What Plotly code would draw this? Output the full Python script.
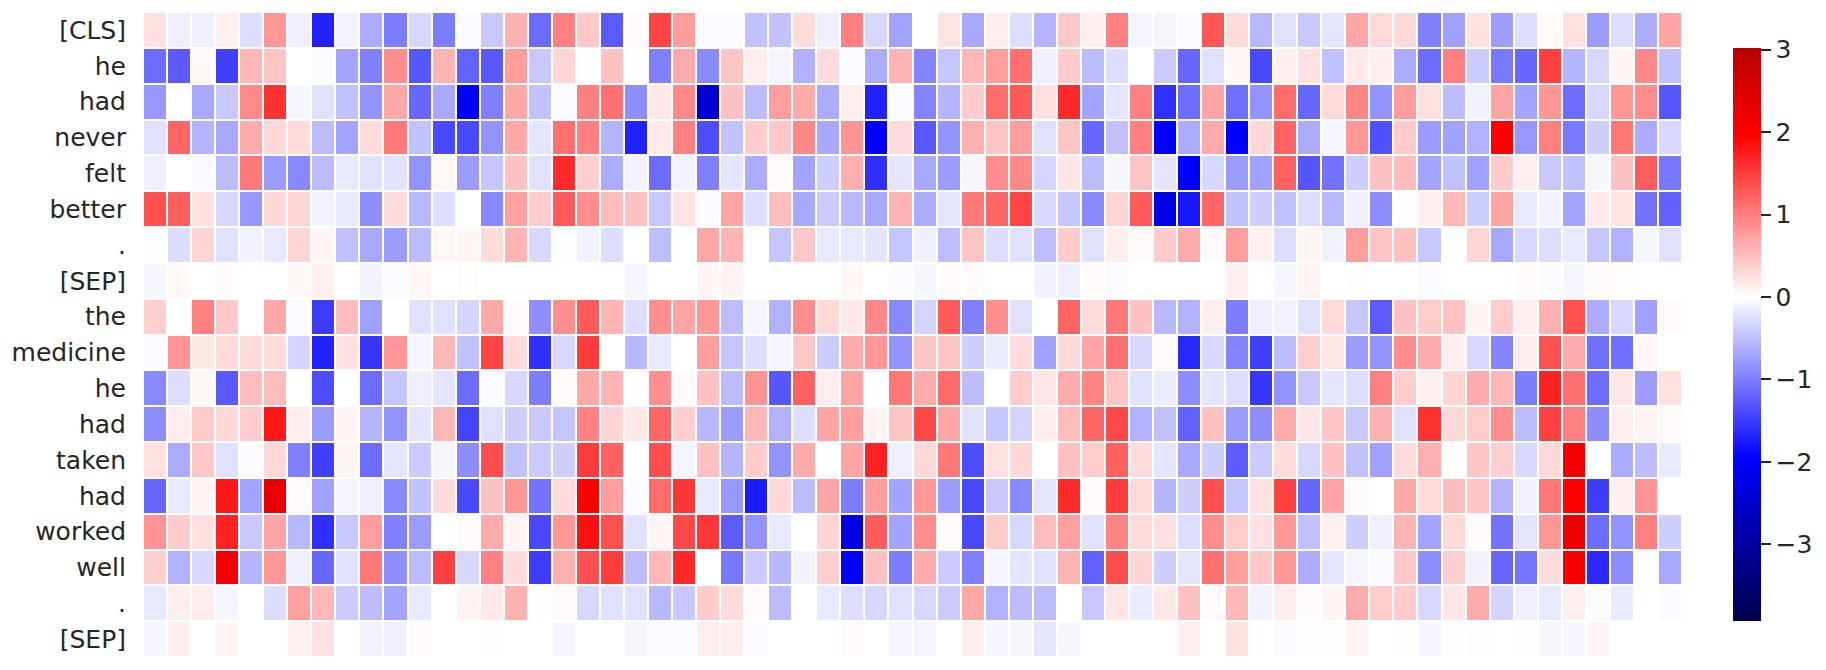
"""Token attention heatmap: one row per token, 64 hidden dimensions across."""
import plotly.graph_objects as go

tokens = ["[CLS]", "he", "had", "never", "felt", "better", ".", "[SEP]", "the", "medicine",
          "he", "had", "taken", "had", "worked", "well", ".", "[SEP]"]

row_cls = [.25, -.13, -.12, .12, -.26, .8, -.13, -1.7, -.09, -.65, -1.0, -.3, -1.0, -.04, -.42, .6,
           -1.15, .98, .42, -1.27, .05, 1.44, .76, -.04, -.03, -.48, -.48, .27, -.13, .98, -.3, -.72,
           0, .22, -.67, .14, -.26, -.57, .42, .13, .98, -.08, -.08, -.04, 1.3, .27, -.55, -.24,
           -.42, -.2, .68, .3, .3, -.98, -.73, .24, -.75, -.26, .05, .24, -.76, -.26, -.63, .7]
row_he = [-1.13, -1.27, .07, -1.47, .55, .45, 0, -.03, -.7, -.98, .87, -1.3, .58, -1.2, -1.28, .76,
          -.42, .33, 0, .48, 0, -.98, .65, -.9, .45, .15, -.08, -.6, .27, -.03, -.65, .58,
          -.95, -.44, .55, .76, 1.1, -.12, .4, -.52, -.26, 0, -.4, -1.17, -.24, .07, -1.4, .13,
          .24, -.48, .16, .13, -.65, -1.13, .98, -.4, -1.03, -1.17, 1.47, -.58, -.3, .08, .92, -.48]
row_had = [-.8, 0, -.67, -.42, .92, 1.58, -.07, -.24, -.48, -.83, .67, -1.17, -.67, -1.96, -.98, .67,
           -.48, -.03, .98, 1.1, -.87, .18, .92, -2.44, .48, -.52, .76, .65, -.65, .15, -1.7, -.03,
           -.95, -.58, .4, 1.13, 1.27, .24, 1.65, -.7, -.2, .98, -1.6, -1.13, .7, -1.1, -.83, 1.13,
           -1.17, .3, .95, -.83, .76, .24, -.52, -.1, .7, -.7, .8, -1.13, -.3, .8, .88, -1.3]
row_never = [-.24, 1.17, -.58, -.67, .65, .3, .27, -.52, -.7, .27, 1.03, -.48, -1.4, -1.4, -.83, .67,
             -.2, 1.1, .98, -.58, -1.7, .16, .98, -1.37, -.48, .4, .42, .92, -.67, .83, -1.96, .27,
             -1.28, -.83, .6, .45, .76, -.24, .45, -1.17, -.48, .98, -1.96, -.65, .65, -1.96, .3, 1.2,
             -.65, -.07, .8, -1.35, .4, -.76, -.73, -.6, 1.96, -.8, .98, -1.03, -.37, 1.05, -.65, -.3]
row_felt = [-.13, 0, -.05, -.52, 1.03, -.76, -.92, -.52, -.18, -.24, -.22, -.83, .07, -.76, -.45, .48,
            -.24, 1.65, .37, -.65, -.1, -1.13, -.1, -.98, -.2, -.65, .05, -.7, -.37, .62, -1.6, -.2,
            -.67, -.76, -.07, .88, .92, -.33, .2, -.52, -.07, .45, -.2, -1.96, -.3, -.76, -.73, 1.22,
            -1.3, -1.08, -.37, .48, .52, -.7, -.48, -.73, .4, .13, -.42, -.48, -.07, .48, 1.25, -1.05]
row_better = [1.35, 1.25, .24, -.3, -.8, .3, .33, -.1, -.18, -.87, .27, -.55, -.26, 0, -.92, .73,
              .4, 1.28, .88, .52, .48, -.42, .22, -.03, .7, -.26, .52, -.67, -.4, -.55, -.67, .58,
              -.65, -.2, 1.03, 1.17, 1.44, -.3, -.45, -.92, .33, 1.27, -2.22, -1.78, 1.17, -.48, -.37, -.48,
              -.26, -.55, -.12, -.88, -.01, .13, .55, -.37, .7, -.18, -.1, -.7, .16, .22, -1.08, -1.22]
row_dot_1 = [-.01, -.26, .33, -.24, -.1, -.18, .33, .08, -.48, -.67, -.76, -.52, .07, .08, .27, .58,
             -.3, -.01, -.1, -.26, 0, -.5, 0, .68, .58, 0, -.45, .42, -.18, -.18, -.2, -.45,
             -.12, -.5, .45, -.26, -.24, -.5, .4, -.24, .13, .05, .4, .65, .05, .76, .12, -.26,
             .08, -.1, .76, .45, .48, -.42, 0, .33, -.67, -.3, -.26, -.18, -.45, -.6, -.07, -.24]
row_sep_1 = [-.07, .07, 0, .03, 0, 0, .07, .12, 0, -.1, -.04, .07, 0, .02, 0, 0,
             0, 0, 0, 0, -.08, 0, 0, .08, .1, 0, 0, 0, 0, .07, 0, -.04,
             -.07, .03, .03, 0, 0, -.1, -.13, .03, -.03, 0, 0, 0, 0, .13, 0, -.07,
             .08, 0, .01, 0, 0, -.03, 0, 0, 0, .03, -.03, -.07, .03, .02, 0, 0]
row_the = [.37, 0, .98, .42, 0, .67, -.03, -1.5, .52, -.73, 0, -.24, -.24, -.33, .67, .04,
           -.87, .87, 1.27, .58, -.26, .87, .7, .8, -.5, -.08, -.6, .88, .3, .18, .92, -.92,
           -.33, 1.28, -.98, .88, -.24, 0, 1.2, .27, 1.05, .48, -.55, -.6, .13, -1.0, -.13, -.1,
           -.24, .3, -.45, -1.27, .48, .4, .48, .08, .4, .13, .6, 1.35, -.65, -.3, -.73, .05]
row_medicine = [-.03, .83, .18, .27, .27, .27, -.33, -1.7, .24, -1.55, .8, -.08, .55, -.48, 1.44, .27,
                -1.6, -.3, 1.5, 0, -.55, -.18, 0, .76, -.45, -.26, -.08, .42, -.4, .65, .8, -.83,
                .45, .45, -.37, -.15, .27, -.73, .3, .7, 1.1, -.3, .05, -1.65, -.3, -.95, -1.47, -.52,
                .37, .2, -.76, -.83, .88, .65, .13, -.3, -.95, .14, 1.35, .65, -1.1, -1.1, .07, 0]
row_he_2 = [-.92, -.26, .07, -1.28, .52, .52, 0, -1.37, 0, -1.13, -.45, -.13, -.2, -1.13, -.03, -.3,
            -1.0, .05, .67, .58, 0, .87, .05, .48, -.52, .83, -1.3, 1.22, .14, .7, 0, 1.05,
            .65, 1.15, -.52, 0, .4, .2, .65, .95, .45, -.24, -.15, -.88, -.2, -.26, -1.55, -.83,
            -.42, -.2, -.26, .98, .37, .13, .33, .65, .55, -1.0, 1.7, 1.1, -1.13, .2, -.76, .24]
row_had_2 = [-.87, .14, .4, .3, .37, 1.78, .14, -.76, .08, -.58, -.83, -.2, .55, -1.44, -.24, -.37,
             -.42, -.45, .98, .33, .18, 1.17, .37, -.55, -.76, .55, -.6, -.26, .7, .76, .08, .45,
             1.4, .67, -.24, -.45, -.33, .15, .52, 1.17, 1.4, -.6, -.48, -1.22, .48, -.76, -.87, .65,
             .2, .45, -.42, .6, -.24, 1.58, .3, .4, .87, -.52, 1.47, .98, -.88, .13, .1, .04]
row_taken = [.24, -.65, .42, -.24, -.04, .3, -.98, -1.47, .08, -1.13, -.2, -.4, -.07, -.88, 1.37, -.48,
             -.4, -.37, 1.5, 1.22, 0, 1.37, -.08, .48, -.58, .4, -.83, .65, 0, .7, 1.7, -.13,
             .3, 1.05, -1.37, .24, .3, 0, .48, .4, 1.22, .27, -.2, -.67, -.37, -1.25, -.4, .27,
             -.3, .48, -.48, -.73, .27, .62, 0, .45, .37, -.3, .3, 2.13, 0, -.65, -.52, -.16]
row_had_3 = [-1.17, -.18, .08, 1.78, -.7, 2.32, .04, -.73, -.08, -.13, -.92, -.48, .27, -1.4, .48, .8,
             -1.08, .27, 1.96, .76, -.03, 1.13, 1.55, -.18, -.8, -1.75, .3, -.52, .7, -1.0, .76, -.7,
             .8, -.76, -1.4, -.42, -.92, -.2, 1.65, .04, 1.5, .3, -.58, -.37, 1.35, -.45, .24, 1.47,
             -1.17, .7, .04, 0, .67, .3, .52, .45, -.58, -.1, 1.05, 1.96, -1.5, .13, .83, 0]
row_worked = [.83, .4, .24, 1.7, -.42, .7, -.55, -1.6, -.42, .76, -.98, -.76, 0, .03, .65, .08,
              -1.4, .8, 1.85, 1.35, -.24, .08, 1.4, 1.55, -1.25, -.83, -.18, 0, .33, -2.31, 1.25, -.7,
              .88, .04, -1.4, .4, -.3, .52, .73, -.24, .95, .27, .24, -.26, .88, .4, .24, .8,
              -.48, .12, -.37, -.12, .58, -.7, .3, .03, -1.08, -.2, .8, 2.26, -1.13, -.83, .98, -.37]
row_well = [.37, -.6, -.3, 2.13, -.58, .8, -.13, -1.17, -.24, 1.05, -.87, -.52, 1.47, -.3, .98, .27,
            -1.5, .6, 1.35, 1.5, -.52, .55, 1.65, 0, -1.05, -.4, -.55, -.1, .37, -1.96, .48, -1.0,
            .65, -.4, -.98, -.08, -.2, -.24, .58, -1.22, 1.37, .33, -.37, -.2, 1.1, .76, .42, .8,
            -.65, -.2, -.08, -.05, .42, -.87, .37, -.1, -1.17, -1.06, .27, 2.08, -1.65, -.88, 0, -.67]
row_dot_2 = [-.18, .14, .15, -.08, 0, -.26, .73, .55, -.4, -.52, -.7, -.18, 0, .1, .18, .6,
             0, .04, -.3, -.24, -.24, -.55, -.42, .4, .27, .03, -.52, 0, -.18, -.26, -.3, -.24,
             -.3, -.4, .67, -.6, -.52, -.52, 0, -.42, .2, -.15, .18, .48, .05, .55, -.1, .15,
             .03, .08, .65, .4, .4, -.3, .2, .65, -.33, -.13, -.18, .13, -.04, -.16, 0, -.03]
row_sep_2 = [-.07, .13, 0, .08, 0, 0, .12, .24, 0, -.1, -.12, .03, 0, 0, .01, 0,
             0, -.07, 0, 0, -.07, -.03, -.03, .15, .14, -.03, 0, 0, 0, .03, 0, -.07,
             -.08, 0, .15, -.07, -.07, -.2, -.07, 0, 0, 0, 0, .13, 0, .24, 0, -.03,
             .02, .02, .08, 0, .02, -.07, .02, .02, 0, .02, -.07, -.07, .08, 0, 0, 0]

z_values = [row_cls, row_he, row_had, row_never, row_felt, row_better, row_dot_1, row_sep_1, row_the,
            row_medicine, row_he_2, row_had_2, row_taken, row_had_3, row_worked, row_well, row_dot_2, row_sep_2]

# seaborn's center=0 on "seismic": the map is symmetric about 0 but clipped at the data range
z_min, z_max = -3.93, 3.02


def pos(v):
    return (v - z_min) / (z_max - z_min)


seismic = [
    [pos(z_min), "rgb(0,0,77)"],
    [pos(-1.965), "rgb(0,0,255)"],
    [pos(0), "rgb(255,255,255)"],
    [pos(1.965), "rgb(255,0,0)"],
    [pos(z_max), "rgb(186,0,0)"],
]

fig = go.Figure(go.Heatmap(
    z=z_values,
    y=list(range(len(tokens))),
    zmin=z_min,
    zmax=z_max,
    colorscale=seismic,
    xgap=2,
    ygap=2,
    hoverongaps=False,
    colorbar=dict(
        thickness=28,
        lenmode="pixels",
        len=573,
        yanchor="top",
        y=0.9442,
        xanchor="left",
        x=1.0331,
        xpad=0,
        ypad=0,
        outlinewidth=0,
        tickmode="array",
        tickvals=[-3, -2, -1, 0, 1, 2, 3],
        ticks="outside",
        ticklen=10,
        tickwidth=2,
        tickcolor="#262626",
        tickprefix="\u00a0",  # pushes the labels off the ticks, no standoff on a colorbar
        tickfont=dict(family="DejaVu Sans", size=25, color="#262626"),
    ),
))

fig.update_layout(
    width=1810,
    height=654,
    margin=dict(l=135, r=136, t=4, b=5),
    paper_bgcolor="white",
    plot_bgcolor="white",
    font=dict(family="DejaVu Sans", size=25, color="#262626"),
)
fig.update_xaxes(visible=False)
fig.update_yaxes(
    autorange="reversed",
    tickmode="array",
    tickvals=list(range(len(tokens))),
    ticktext=tokens,
    ticks="",
    ticklabelstandoff=16,
    showgrid=False,
    zeroline=False,
    showline=False,
)

fig.write_html("out.html")
